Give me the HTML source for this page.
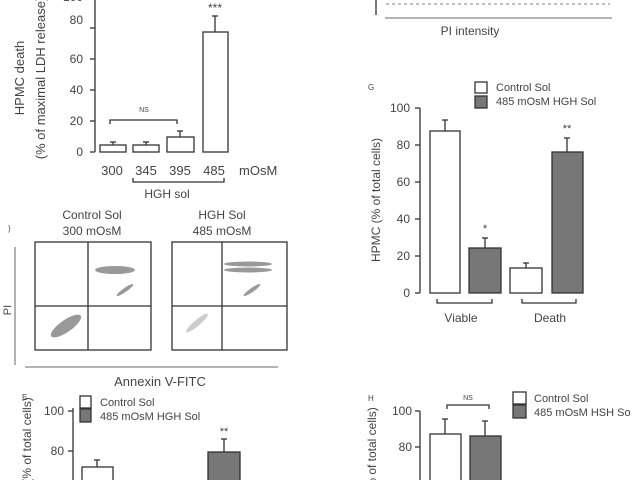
<!DOCTYPE html>
<html><head><meta charset="utf-8"><style>
html,body{margin:0;padding:0;background:#fff;width:640px;height:480px;overflow:hidden}
svg{display:block}
text{font-family:"Liberation Sans",sans-serif;fill:#444}
</style></head><body>
<svg width="640" height="480" viewBox="0 0 640 480" xmlns="http://www.w3.org/2000/svg">
<g stroke="#333" stroke-width="1.3" fill="none">
<line x1="95" y1="0" x2="95" y2="152"/>
<line x1="90" y1="152" x2="95" y2="152"/><line x1="90" y1="121" x2="95" y2="121"/><line x1="90" y1="90" x2="95" y2="90"/><line x1="90" y1="59" x2="95" y2="59"/><line x1="90" y1="28" x2="95" y2="28"/>
<rect x="100" y="145" width="26" height="7" fill="#fff"/>
<rect x="133" y="145" width="26" height="7" fill="#fff"/>
<rect x="167" y="137" width="27" height="15" fill="#fff"/>
<rect x="203" y="32" width="25" height="120" fill="#fff"/>
<line x1="113" y1="145" x2="113" y2="142"/><line x1="110" y1="142" x2="116" y2="142"/>
<line x1="146" y1="145" x2="146" y2="142"/><line x1="143" y1="142" x2="149" y2="142"/>
<line x1="180" y1="137" x2="180" y2="131"/><line x1="177" y1="131" x2="183" y2="131"/>
<line x1="215" y1="32" x2="215" y2="16"/><line x1="212" y1="16" x2="218" y2="16"/>
<path d="M110 124 V120 H177 V124"/>
<path d="M133 178 V182 H224 V178"/>
<rect x="35" y="242" width="116" height="108"/>
<line x1="88" y1="242" x2="88" y2="350"/><line x1="35" y1="306" x2="151" y2="306"/>
<rect x="172" y="242" width="115" height="108"/>
<line x1="222" y1="242" x2="222" y2="350"/><line x1="172" y1="306" x2="287" y2="306"/>
<line x1="15" y1="365" x2="15" y2="247" stroke="#888"/>
<line x1="25" y1="367" x2="278" y2="367" stroke="#888"/>
<line x1="73" y1="408" x2="73" y2="480"/>
<line x1="68" y1="411" x2="73" y2="411"/><line x1="68" y1="451" x2="73" y2="451"/>
<rect x="80" y="396" width="11" height="12" fill="#fff"/>
<rect x="80" y="409" width="11" height="13" fill="#777"/>
<rect x="82" y="467" width="31" height="20" fill="#fff"/>
<line x1="97" y1="467" x2="97" y2="460"/><line x1="94" y1="460" x2="100" y2="460"/>
<rect x="208" y="452" width="32" height="40" fill="#777"/>
<line x1="224" y1="452" x2="224" y2="439"/><line x1="221" y1="439" x2="227" y2="439"/>
<line x1="376" y1="0" x2="376" y2="15"/>
<line x1="385" y1="18" x2="612" y2="18" stroke="#888"/>
<path d="M386 4 H610" stroke="#999" stroke-dasharray="3 3"/>
<line x1="420" y1="108" x2="420" y2="293"/>
<line x1="415" y1="108" x2="420" y2="108"/><line x1="415" y1="145" x2="420" y2="145"/><line x1="415" y1="182" x2="420" y2="182"/><line x1="415" y1="219" x2="420" y2="219"/><line x1="415" y1="256" x2="420" y2="256"/><line x1="415" y1="293" x2="420" y2="293"/>
<rect x="475" y="82" width="12" height="11" fill="#fff"/>
<rect x="475" y="96" width="12" height="12" fill="#777"/>
<rect x="430" y="131" width="30" height="162" fill="#fff"/>
<line x1="445" y1="131" x2="445" y2="120"/><line x1="442" y1="120" x2="448" y2="120"/>
<rect x="469" y="248" width="32" height="45" fill="#777"/>
<line x1="485" y1="248" x2="485" y2="238"/><line x1="482" y1="238" x2="488" y2="238"/>
<rect x="510" y="268" width="32" height="25" fill="#fff"/>
<line x1="526" y1="268" x2="526" y2="263"/><line x1="523" y1="263" x2="529" y2="263"/>
<rect x="552" y="152" width="31" height="141" fill="#777"/>
<line x1="567" y1="152" x2="567" y2="138"/><line x1="564" y1="138" x2="570" y2="138"/>
<path d="M437 299 V303 H492 V299"/><path d="M522 299 V303 H576 V299"/>
<line x1="420" y1="411" x2="420" y2="480"/>
<line x1="415" y1="411" x2="420" y2="411"/><line x1="415" y1="447" x2="420" y2="447"/>
<rect x="430" y="434" width="31" height="50" fill="#fff"/>
<line x1="445" y1="434" x2="445" y2="419"/><line x1="442" y1="419" x2="448" y2="419"/>
<rect x="470" y="436" width="31" height="50" fill="#777"/>
<line x1="485" y1="436" x2="485" y2="421"/><line x1="482" y1="421" x2="488" y2="421"/>
<path d="M447 409 V405 H489 V409"/>
<rect x="513" y="392" width="13" height="12" fill="#fff"/>
<rect x="513" y="405" width="13" height="13" fill="#777"/>
</g>
<g fill="#777" opacity="0.75">
<ellipse cx="66" cy="326" rx="18" ry="6" transform="rotate(-35 66 326)"/>
<ellipse cx="115" cy="270" rx="20" ry="4"/>
<ellipse cx="125" cy="290" rx="10" ry="2" transform="rotate(-35 125 290)"/>
<ellipse cx="197" cy="323" rx="14" ry="3" transform="rotate(-40 197 323)" opacity="0.5"/>
<ellipse cx="248" cy="264" rx="24" ry="2.5"/>
<ellipse cx="248" cy="270" rx="24" ry="2.5"/>
<ellipse cx="252" cy="290" rx="10" ry="2" transform="rotate(-35 252 290)"/>
</g>
<g font-size="13">
<text x="83" y="1" text-anchor="end" font-size="12">100</text>
<text x="83" y="24" text-anchor="end" font-size="12">80</text>
<text x="83" y="63" text-anchor="end" font-size="12">60</text>
<text x="83" y="94" text-anchor="end" font-size="12">40</text>
<text x="83" y="125" text-anchor="end" font-size="12">20</text>
<text x="83" y="156" text-anchor="end" font-size="12">0</text>
<text x="215" y="12" text-anchor="middle" font-size="12">***</text>
<text x="144" y="112" text-anchor="middle" font-size="7">NS</text>
<text x="112" y="175" text-anchor="middle" font-size="13">300</text>
<text x="146" y="175" text-anchor="middle" font-size="13">345</text>
<text x="180" y="175" text-anchor="middle" font-size="13">395</text>
<text x="214" y="175" text-anchor="middle" font-size="13">485</text>
<text x="239" y="175" font-size="13">mOsM</text>
<text x="167" y="198" text-anchor="middle" font-size="12">HGH sol</text>
<text transform="translate(24 78) rotate(-90)" text-anchor="middle" font-size="13">HPMC death</text>
<text transform="translate(45 78) rotate(-90)" text-anchor="middle" font-size="13">(% of maximal LDH release)</text>
<text x="92" y="219" text-anchor="middle" font-size="12">Control Sol</text>
<text x="92" y="235" text-anchor="middle" font-size="12">300 mOsM</text>
<text x="222" y="219" text-anchor="middle" font-size="12">HGH Sol</text>
<text x="222" y="235" text-anchor="middle" font-size="12">485 mOsM</text>
<text x="8" y="231" font-size="8">)</text>
<text transform="translate(11 310) rotate(-90)" text-anchor="middle" font-size="11">PI</text>
<text x="160" y="386" text-anchor="middle" font-size="13">Annexin V-FITC</text>
<text x="22" y="400" font-size="8">E</text>
<text x="64" y="415" text-anchor="end" font-size="12">100</text>
<text x="64" y="455" text-anchor="end" font-size="12">80</text>
<text x="100" y="406" font-size="11">Control Sol</text>
<text x="100" y="420" font-size="11">485 mOsM HGH Sol</text>
<text x="224" y="435" text-anchor="middle" font-size="11">**</text>
<text transform="translate(31 440) rotate(-90)" text-anchor="middle" font-size="12">(% of total cells)</text>
<text x="470" y="35" text-anchor="middle" font-size="12">PI intensity</text>
<text x="368" y="90" font-size="8">G</text>
<text x="496" y="91" font-size="11">Control Sol</text>
<text x="496" y="105" font-size="11">485 mOsM HGH Sol</text>
<text x="410" y="112" text-anchor="end" font-size="12">100</text>
<text x="410" y="149" text-anchor="end" font-size="12">80</text>
<text x="410" y="186" text-anchor="end" font-size="12">60</text>
<text x="410" y="223" text-anchor="end" font-size="12">40</text>
<text x="410" y="260" text-anchor="end" font-size="12">20</text>
<text x="410" y="297" text-anchor="end" font-size="12">0</text>
<text x="485" y="232" text-anchor="middle" font-size="11">*</text>
<text x="567" y="132" text-anchor="middle" font-size="11">**</text>
<text transform="translate(380 200) rotate(-90)" text-anchor="middle" font-size="12">HPMC (% of total cells)</text>
<text x="461" y="322" text-anchor="middle" font-size="12">Viable</text>
<text x="550" y="322" text-anchor="middle" font-size="12">Death</text>
<text x="368" y="401" font-size="8">H</text>
<text x="468" y="400" text-anchor="middle" font-size="7">NS</text>
<text x="534" y="402" font-size="11">Control Sol</text>
<text x="534" y="416" font-size="11">485 mOsM HSH So</text>
<text x="412" y="415" text-anchor="end" font-size="12">100</text>
<text x="412" y="451" text-anchor="end" font-size="12">80</text>
<text transform="translate(376 450) rotate(-90)" text-anchor="middle" font-size="12">(% of total cells)</text>
</g>
</svg>
</body></html>
